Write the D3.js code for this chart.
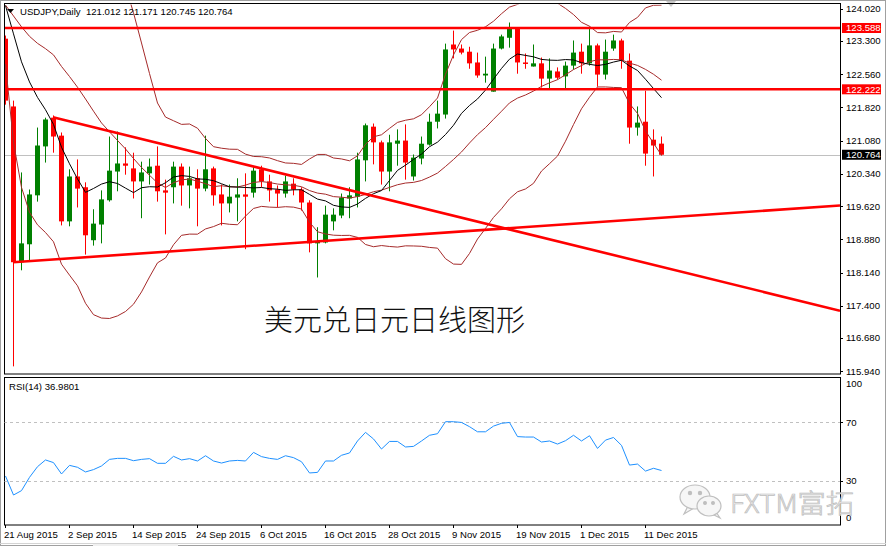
<!DOCTYPE html>
<html><head><meta charset="utf-8">
<script src="https://cdn.jsdelivr.net/npm/d3@7"></script>
<style>
body{margin:0;background:#fff;}
svg{display:block;font-family:"Liberation Sans",Arial,sans-serif;}
</style>
</head><body>
<svg id="c" width="886" height="546"></svg>
<script>
// ---------------- data ----------------
const title = "USDJPY,Daily  121.012 121.171 120.745 120.764";
const rsiTitle = "RSI(14) 36.9801";
const caption = "美元兑日元日线图形";
const watermark = "FXTM富拓";

const opens = [123.35,121.84,118.37,118.77,119.86,120.95,121.59,121.19,119.28,120.28,
120.04,118.86,119.21,119.75,120.39,120.57,120.46,120.17,120.35,120.52,
119.97,120.04,120.50,120.08,120.24,120.01,120.46,119.88,119.68,119.81,
119.88,119.92,120.44,120.17,119.99,119.90,120.12,119.99,119.70,118.79,
118.81,119.28,119.41,119.79,119.83,120.64,121.39,121.04,120.39,121.01,
121.08,120.28,120.68,120.99,121.50,121.66,123.22,123.13,123.06,122.82,
122.53,122.17,123.13,123.37,123.57,122.82,122.73,122.80,122.46,122.62,
122.51,122.75,123.06,122.80,123.20,122.55,123.13,123.31,122.86,121.37,
121.50,121.10,121.012];
const highs = [123.42,121.97,120.37,119.99,121.37,121.59,121.64,121.26,120.44,120.66,
120.15,119.55,119.97,121.17,121.28,120.93,120.81,120.61,120.68,120.95,
120.21,120.61,120.57,120.50,120.44,121.19,120.50,120.10,120.10,120.24,
120.35,120.50,120.52,120.32,120.08,120.30,120.24,120.04,119.75,119.15,
119.63,119.57,119.90,120.04,120.81,121.46,121.46,121.08,121.21,121.33,
121.44,120.77,121.17,121.68,121.97,123.24,123.53,123.22,123.17,123.04,
122.95,123.24,123.44,123.71,123.60,123.02,123.22,122.93,122.91,122.71,
122.84,123.31,123.24,123.62,123.24,123.33,123.44,123.35,123.02,121.84,
122.19,121.33,121.171];
const lows = [121.88,116.05,118.19,118.39,119.72,120.59,120.81,119.19,119.17,119.59,
118.54,118.74,118.79,119.72,119.95,120.32,119.79,119.35,120.10,119.72,
118.99,119.68,119.63,119.57,119.17,119.95,119.63,119.19,119.48,119.28,
118.66,119.81,120.04,119.72,119.59,119.81,119.86,119.52,118.59,118.03,
118.79,119.08,119.35,119.35,119.59,120.17,120.55,120.10,119.95,120.52,
120.21,120.19,120.55,120.97,121.35,121.57,122.91,123.00,122.68,122.48,
122.37,122.17,123.11,123.15,122.57,122.68,122.73,122.26,122.22,122.44,
122.24,122.66,122.57,122.75,122.28,122.44,123.08,122.68,121.01,121.19,
120.52,120.28,120.745];
const closes = [121.97,118.37,118.79,119.88,120.97,121.55,121.17,119.28,120.28,120.01,
118.97,119.23,119.77,120.41,120.57,120.52,120.17,120.37,120.50,119.95,
119.92,120.50,120.08,120.24,120.01,120.44,119.86,119.68,119.83,119.88,
119.83,120.41,120.17,119.97,119.90,120.17,119.99,119.70,118.79,118.83,
119.43,119.43,119.81,119.86,120.66,121.42,121.04,120.39,121.04,121.08,
120.59,120.70,121.01,121.50,121.68,123.11,123.11,123.04,122.80,122.53,
122.57,123.13,123.40,123.57,122.82,122.80,122.80,122.46,122.64,122.48,
122.75,123.04,122.80,123.20,122.55,123.06,123.31,122.86,121.37,121.48,
120.79,120.97,120.764];
// closes before 21 Aug 2015 (off-chart) used only to warm up MA / Bollinger
const priorCloses = [123.80,123.23,123.62,124.12,124.09,123.92,123.95,124.42,124.77,124.77,
124.22,124.66,125.02,124.36,124.41,124.31,124.43,124.36,123.97,123.37];
const rsiValues = [33.2,20.2,23.2,32.3,39.6,44.2,42.4,34.6,40.5,39.2,
36.0,37.6,40.1,44.6,45.3,45.3,43.7,44.6,45.1,41.9,
41.9,46.7,44.2,45.1,43.5,47.1,43.5,42.1,43.5,43.9,
43.5,49.4,46.5,45.3,44.6,47.1,45.8,43.0,35.3,35.7,
43.5,43.5,47.4,49.0,57.2,63.1,58.6,51.7,56.9,56.9,
53.1,53.5,57.2,61.1,62.2,70.4,70.4,69.9,67.0,63.5,
63.5,67.4,69.3,69.9,60.2,59.9,59.9,56.5,57.2,55.1,
57.4,61.1,57.2,60.8,52.1,57.8,59.6,54.2,40.7,41.4,
36.6,38.5,36.98];

const priceTicks = [124.020,123.300,122.560,121.820,121.080,120.340,119.620,118.880,118.140,117.400,116.680,115.940];
const rsiTicks = [100,70,30,0];
const rsiLevels = [70,30];
const dateTickIndex = [0,8,16,24,32,40,48,56,64,72,80];
const dateTickLabels = ["21 Aug 2015","2 Sep 2015","14 Sep 2015","24 Sep 2015","6 Oct 2015","16 Oct 2015","28 Oct 2015","9 Nov 2015","19 Nov 2015","1 Dec 2015","11 Dec 2015"];
const levels = [123.588, 122.222];
const lastPrice = 120.764;
// trend lines: [barIndex, price] anchor pairs, extended to the right edge
const trendDown = [[6,121.60],[82,118.27]];
const trendUp = [[1,118.37],[82,119.36]];
const maPeriod = 10, bbPeriod = 20, bbDev = 2;

// ---------------- layout ----------------
const svg = d3.select("#c");
const L = 4, R = 840;
const mainT = 4, mainB = 374;
const rsiT = 377, rsiB = 525;
const N = closes.length;

const x = d3.scaleLinear().domain([0, N-1]).range([5, 5 + 8*(N-1)]);
const y = d3.scaleLinear().domain([115.94, 124.02]).range([371.3, 8.6]);
const yR = d3.scaleLinear().domain([0, 100]).range([524.5, 378.5]);
const xEdgeIdx = x.invert(R);

const defs = svg.append("defs");
defs.append("clipPath").attr("id","clipMain").append("rect")
  .attr("x",L+0.5).attr("y",mainT+0.5).attr("width",R-L-0.5).attr("height",mainB-mainT-0.5);
defs.append("clipPath").attr("id","clipRsi").append("rect")
  .attr("x",L+0.5).attr("y",rsiT+0.5).attr("width",R-L-0.5).attr("height",rsiB-rsiT-0.5);

// outer window frame
svg.append("rect").attr("x",0.5).attr("y",0.5).attr("width",885).attr("height",545)
  .attr("fill","none").attr("stroke","#a0a0a0");
svg.append("line").attr("x1",0).attr("x2",886).attr("y1",543.5).attr("y2",543.5).attr("stroke","#d4d4d4");
svg.append("rect").attr("x",93).attr("y",544).attr("width",85).attr("height",2).attr("fill","#f0f0f0");

const gMain = svg.append("g").attr("clip-path","url(#clipMain)");

// current price line
gMain.append("line").attr("x1",L).attr("x2",R)
  .attr("y1",Math.round(y(lastPrice))+0.5).attr("y2",Math.round(y(lastPrice))+0.5)
  .attr("stroke","#c0c0c0").attr("stroke-width",1);

// candles
const bars = d3.range(N).map(i => ({i, o:opens[i], h:highs[i], l:lows[i], c:closes[i]}));
const upC = "#008000", dnC = "#ff0000";
gMain.selectAll("line.wick").data(bars).join("line").attr("class","wick")
  .attr("x1",d=>x(d.i)+0.5).attr("x2",d=>x(d.i)+0.5)
  .attr("y1",d=>y(d.h)).attr("y2",d=>y(d.l))
  .attr("stroke",d=>d.c>=d.o?upC:dnC).attr("stroke-width",1);
gMain.selectAll("rect.body").data(bars).join("rect").attr("class","body")
  .attr("x",d=>x(d.i)-2).attr("width",5)
  .attr("y",d=>y(Math.max(d.o,d.c)))
  .attr("height",d=>Math.max(1.5, y(Math.min(d.o,d.c))-y(Math.max(d.o,d.c))))
  .attr("fill",d=>d.c>=d.o?upC:dnC);

// indicators computed from closes
const all = priorCloses.concat(closes);
const off = priorCloses.length;
const ma = [], bbMid = [], bbUp = [], bbLo = [];
for (let i=0;i<N;i++){
  const k = i+off;
  const w10 = all.slice(k-maPeriod+1,k+1);
  ma.push(d3.mean(w10));
  const w20 = all.slice(k-bbPeriod+1,k+1);
  const m = d3.mean(w20);
  const sd = Math.sqrt(d3.mean(w20, v=>(v-m)*(v-m)));
  bbMid.push(m); bbUp.push(m+bbDev*sd); bbLo.push(m-bbDev*sd);
}
const lineGen = d3.line().x((d,i)=>x(i)+0.5).y(d=>y(d));
const bbC = "#a52a2a";
[bbUp,bbMid,bbLo].forEach(s=>{
  gMain.append("path").attr("d",lineGen(s)).attr("fill","none").attr("stroke",bbC).attr("stroke-width",1);
});
gMain.append("path").attr("d",lineGen(ma)).attr("fill","none").attr("stroke","#000").attr("stroke-width",1);

// horizontal levels
levels.forEach(v=>{
  gMain.append("line").attr("x1",L).attr("x2",R).attr("y1",y(v)).attr("y2",y(v))
    .attr("stroke","#ff0000").attr("stroke-width",2.6);
});
// trend lines (rays to the right edge)
function ray(a){
  const [[i1,p1],[i2,p2]] = a;
  const slope = (p2-p1)/(i2-i1);
  return [[i1,p1],[xEdgeIdx, p1+slope*(xEdgeIdx-i1)]];
}
[trendDown,trendUp].forEach(t=>{
  const r = ray(t);
  gMain.append("line").attr("x1",x(r[0][0])).attr("y1",y(r[0][1]))
    .attr("x2",x(r[1][0])).attr("y2",y(r[1][1]))
    .attr("stroke","#ff0000").attr("stroke-width",2.6);
});

// caption
svg.append("text").attr("x",264).attr("y",331).text(caption)
  .attr("font-family","'Noto Sans CJK SC'").attr("font-size",29).attr("font-weight",300).attr("fill","#111");

// header
svg.append("path").attr("d","M7,9 L14,9 L10.5,13 Z").attr("fill","#000");
svg.append("text").attr("x",20).attr("y",15).text(title).attr("font-size",9.6).attr("fill","#000").style("white-space","pre");
svg.append("path").attr("d","M666,1 L676,1 L671,7 Z").attr("fill","#c8c8c8");

// panel frames
svg.append("rect").attr("x",L+0.5).attr("y",mainT-0.5).attr("width",R-L).attr("height",mainB-mainT+0.5)
  .attr("fill","none").attr("stroke","#000");
svg.append("rect").attr("x",L+0.5).attr("y",rsiT+0.5).attr("width",R-L).attr("height",rsiB-rsiT-0.5)
  .attr("fill","none").attr("stroke","#000");

// price axis
const gAx = svg.append("g");
priceTicks.forEach(v=>{
  const yy = y(v);
  gAx.append("line").attr("x1",R).attr("x2",R+3).attr("y1",Math.round(yy)+0.5).attr("y2",Math.round(yy)+0.5).attr("stroke","#000");
  gAx.append("text").attr("x",846).attr("y",yy+3.4).text(v.toFixed(3)).attr("font-size",9.6).attr("fill","#000");
});
function priceBox(v, bg){
  const yy = y(v);
  gAx.append("rect").attr("x",R+2).attr("y",yy-5).attr("width",39).attr("height",10).attr("fill",bg);
  gAx.append("text").attr("x",846).attr("y",yy+3.4).text(v.toFixed(3)).attr("font-size",9.6).attr("fill","#fff");
}
levels.forEach(v=>priceBox(v,"#ff0000"));
priceBox(lastPrice,"#000");

// RSI panel
const gR = svg.append("g").attr("clip-path","url(#clipRsi)");
rsiLevels.forEach(v=>{
  gR.append("line").attr("x1",L).attr("x2",R).attr("y1",Math.round(yR(v))+0.5).attr("y2",Math.round(yR(v))+0.5)
    .attr("stroke","#c0c0c0").attr("stroke-dasharray","3,3");
});
gR.append("path").attr("d",d3.line().x((d,i)=>x(i)+0.5).y(d=>yR(d))(rsiValues))
  .attr("fill","none").attr("stroke","#1e90ff").attr("stroke-width",1);
svg.append("text").attr("x",9).attr("y",390).text(rsiTitle).attr("font-size",9.6).attr("fill","#000");
rsiTicks.forEach(v=>{
  const yy = Math.min(518, Math.max(384, yR(v)));
  if (rsiLevels.includes(v)) gAx.append("line").attr("x1",R).attr("x2",R+3).attr("y1",Math.round(yR(v))+0.5).attr("y2",Math.round(yR(v))+0.5).attr("stroke","#000");
  gAx.append("text").attr("x",846).attr("y",yy+3.4).text(v).attr("font-size",9.6).attr("fill","#000");
});

// time axis
dateTickIndex.forEach((idx,k)=>{
  const xx = x(idx)+0.5;
  svg.append("line").attr("x1",xx).attr("x2",xx).attr("y1",rsiB).attr("y2",rsiB+3).attr("stroke","#000");
  svg.append("text").attr("x",xx-1.5).attr("y",538).text(dateTickLabels[k]).attr("font-size",9.6).attr("fill","#000");
});

// watermark
const wm = svg.append("g").attr("stroke","#bfbfbf").attr("stroke-width",1.2).attr("fill","#f6f6f6");
wm.append("path").attr("d","M688,506 L684,514 L694,508 Z");
wm.append("ellipse").attr("cx",695).attr("cy",497).attr("rx",15).attr("ry",12);
wm.append("circle").attr("cx",690).attr("cy",493).attr("r",1.6).attr("fill","#bfbfbf");
wm.append("circle").attr("cx",700).attr("cy",493).attr("r",1.6).attr("fill","#bfbfbf");
wm.append("path").attr("d","M716,512 L720,518 L712,514 Z");
wm.append("ellipse").attr("cx",709).attr("cy",506).attr("rx",12).attr("ry",10);
wm.append("circle").attr("cx",705).attr("cy",503).attr("r",1.4).attr("fill","#bfbfbf");
wm.append("circle").attr("cx",713).attr("cy",503).attr("r",1.4).attr("fill","#bfbfbf");
svg.append("text").attr("x",730).attr("y",513).text(watermark)
  .attr("font-family","'Noto Sans CJK SC', 'Liberation Sans'").attr("font-size",26).attr("font-weight",300)
  .attr("fill","#ececec").attr("stroke","#bdbdbd").attr("stroke-width",0.7)
  .attr("textLength",124).attr("lengthAdjust","spacingAndGlyphs");
</script>
</body></html>
